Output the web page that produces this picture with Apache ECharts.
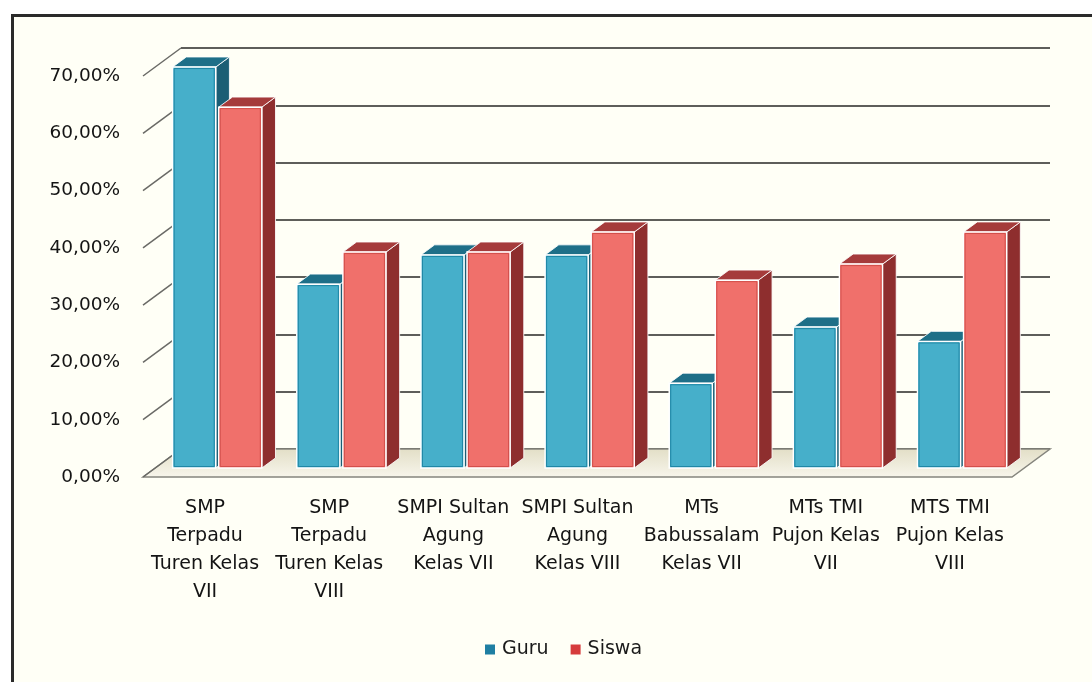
<!DOCTYPE html>
<html>
<head>
<meta charset="utf-8">
<script src="https://cdn.jsdelivr.net/npm/echarts@6/dist/echarts.min.js"></script>
<style>
  body { margin: 0; background: #fff; }
  #panel { position: absolute; left: 11px; top: 14px; width: 1200px; height: 800px;
           border-left: 3px solid #2a2a2a; border-top: 3px solid #2a2a2a; background: #fffff6; }
  #main { position: absolute; left: 0; top: 0; width: 1092px; height: 682px; }
</style>
</head>
<body>
<div id="panel"></div>
<div id="main"></div>
<script>
// data
var categories = [
  'SMP\nTerpadu\nTuren Kelas\nVII',
  'SMP\nTerpadu\nTuren Kelas\nVIII',
  'SMPI Sultan\nAgung\nKelas VII',
  'SMPI Sultan\nAgung\nKelas VIII',
  'MTs\nBabussalam\nKelas VII',
  'MTs TMI\nPujon Kelas\nVII',
  'MTS TMI\nPujon Kelas\nVIII'
];
var guru  = [70, 32.1, 37.2, 37.2, 14.8, 24.6, 22.1];
var siswa = [63, 37.7, 37.7, 41.2, 32.8, 35.6, 41.2];
var yTicks = [0, 10, 20, 30, 40, 50, 60, 70];

// depth of the fake 3d box
var DX = 38, DY = -28;
var F0 = 0.32, F1 = 0.68;

var faces = [
  { front: '#46afca', edge: '#1f86a5', top: '#1e6f88', side: '#1b5e75' },
  { front: '#f0706b', edge: '#d24f4b', top: '#a53b3b', side: '#8e2e2e' }
];

function toPairs(arr) {
  return arr.map(function (v, i) { return [i, v]; });
}

function barRenderer(sIdx) {
  return function (params, api) {
    var cat = api.value(0), v = api.value(1);
    var base = api.coord([cat, 0]);
    var top = api.coord([cat, v]);
    var band = api.size([1, 0])[0];
    var barW = band * 0.347, gap = 3;
    var x0 = base[0] - barW - gap / 2 + sIdx * (barW + gap) + DX * F0;
    var yb = base[1] + DY * F0;
    var yt = top[1] + DY * F0;
    var dx = DX * (F1 - F0), dy = DY * (F1 - F0);
    var c = faces[sIdx];
    var edge = { stroke: 'rgba(255,255,255,0.85)', lineWidth: 1 };
    return {
      type: 'group',
      children: [
        { type: 'polygon', shape: { points: [[x0 + barW, yt], [x0 + barW + dx, yt + dy], [x0 + barW + dx, yb + dy], [x0 + barW, yb]] },
          style: Object.assign({ fill: c.side }, edge) },
        { type: 'polygon', shape: { points: [[x0, yt], [x0 + barW, yt], [x0 + barW + dx, yt + dy], [x0 + dx, yt + dy]] },
          style: Object.assign({ fill: c.top }, edge) },
        { type: 'rect', shape: { x: x0, y: yt, width: barW, height: yb - yt },
          style: { fill: c.front, stroke: '#ffffff', lineWidth: 1.5 } },
        { type: 'rect', shape: { x: x0 + 1.5, y: yt + 1.5, width: barW - 3, height: yb - yt - 3 },
          style: { fill: 'none', stroke: c.edge, lineWidth: 1 } }
      ]
    };
  };
}

var chart = echarts.init(document.getElementById('main'));
var font = '"DejaVu Sans", sans-serif';

var option = {
  backgroundColor: 'transparent',
  animation: false,
  textStyle: { fontFamily: font },
  legend: {
    bottom: 18,
    left: 480,
    icon: 'rect',
    itemWidth: 10,
    itemHeight: 10,
    itemGap: 22,
    textStyle: { fontSize: 19, color: '#1a1a1a', fontFamily: font, padding: [0, 0, 0, 2] },
    data: ['Guru', 'Siswa']
  },
  grid: [
    { left: 143, right: 80, top: 76, bottom: 205 },
    { left: 143 + DX, right: 80 - DX, top: 76 + DY, bottom: 205 - DY }
  ],
  xAxis: [
    {
      type: 'category', gridIndex: 0, data: categories,
      axisLine: { show: false }, axisTick: { show: false },
      axisLabel: { interval: 0, fontSize: 19, lineHeight: 28, color: '#141414', margin: 17, fontFamily: font }
    },
    { type: 'value', gridIndex: 1, min: 0, max: 1, show: false }
  ],
  yAxis: [
    {
      type: 'value', gridIndex: 0, min: 0, max: 70, interval: 10,
      axisLine: { show: false }, axisTick: { show: false }, splitLine: { show: false },
      axisLabel: {
        fontSize: 18.5, color: '#141414', margin: 23, fontFamily: font,
        formatter: function (v) { return v.toFixed(2).replace('.', ',') + '%'; }
      }
    },
    {
      type: 'value', gridIndex: 1, min: 0, max: 70, interval: 10,
      axisLine: { show: false }, axisTick: { show: false }, axisLabel: { show: false },
      splitLine: { show: true, lineStyle: { color: '#5e5e5a', width: 2 } }
    }
  ],
  series: [
    {
      // floor
      type: 'custom', silent: true, z: 1,
      xAxisIndex: 0, yAxisIndex: 0,
      data: [[0, 0]],
      renderItem: function (params, api) {
        var cs = params.coordSys;
        var yb = cs.y + cs.height;
        return {
          type: 'polygon',
          shape: { points: [[cs.x, yb], [cs.x + DX, yb + DY], [cs.x + cs.width + DX, yb + DY], [cs.x + cs.width, yb]] },
          style: {
            fill: new echarts.graphic.LinearGradient(0, 0, 0, 1, [
              { offset: 0, color: '#e2dec6' }, { offset: 1, color: '#f8f6ec' }
            ]),
            stroke: '#85857d', lineWidth: 1.5
          }
        };
      }
    },
    {
      // side wall lines
      type: 'custom', silent: true, z: 1,
      xAxisIndex: 0, yAxisIndex: 0,
      data: yTicks.map(function (t) { return [0, t]; }),
      renderItem: function (params, api) {
        var cs = params.coordSys;
        var p = api.coord([0, api.value(1)]);
        return {
          type: 'line',
          shape: { x1: cs.x, y1: p[1], x2: cs.x + DX, y2: p[1] + DY },
          style: { stroke: '#6a6a66', lineWidth: 1.5 }
        };
      }
    },
    {
      name: 'Guru', type: 'custom', z: 3,
      xAxisIndex: 0, yAxisIndex: 0,
      itemStyle: { color: '#1f7fa3' },
      data: toPairs(guru),
      renderItem: barRenderer(0)
    },
    {
      name: 'Siswa', type: 'custom', z: 4,
      xAxisIndex: 0, yAxisIndex: 0,
      itemStyle: { color: '#d63c3c' },
      data: toPairs(siswa),
      renderItem: barRenderer(1)
    }
  ]
};

chart.setOption(option);
</script>
</body>
</html>
